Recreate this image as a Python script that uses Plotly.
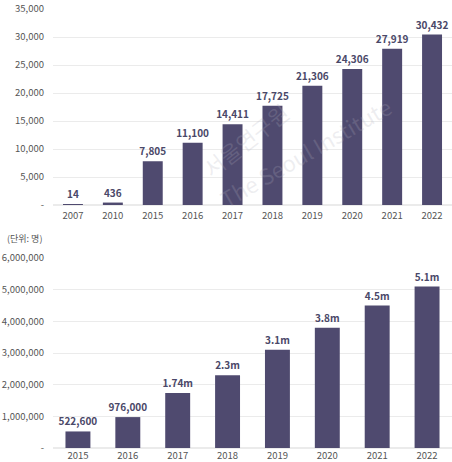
import plotly.graph_objects as go

# Top chart data
top_years = ["2007", "2010", "2015", "2016", "2017", "2018", "2019", "2020", "2021", "2022"]
top_values = [14, 436, 7805, 11100, 14411, 17725, 21306, 24306, 27919, 30432]
top_labels = ["14", "436", "7,805", "11,100", "14,411", "17,725", "21,306", "24,306", "27,919", "30,432"]
top_ticks = [0, 5000, 10000, 15000, 20000, 25000, 30000, 35000]
top_ticktext = ["-", "5,000", "10,000", "15,000", "20,000", "25,000", "30,000", "35,000"]

# Bottom chart data
bot_years = ["2015", "2016", "2017", "2018", "2019", "2020", "2021", "2022"]
bot_values = [522600, 976000, 1740000, 2300000, 3100000, 3800000, 4500000, 5100000]
bot_labels = ["522,600", "976,000", "1.74m", "2.3m", "3.1m", "3.8m", "4.5m", "5.1m"]
bot_ticks = [0, 1000000, 2000000, 3000000, 4000000, 5000000, 6000000]
bot_ticktext = ["-", "1,000,000", "2,000,000", "3,000,000", "4,000,000", "5,000,000", "6,000,000"]

unit_label = "(단위: 명)"

BAR = "#4f4a6f"
LABEL = "#4a4868"
TICK = "#555555"
GRID = "#ebebeb"
FONT = "Noto Sans CJK KR, Noto Sans, sans-serif"
WM = "rgba(175,175,190,0.22)"

W, H = 452, 462
def py(p):
    return 1 - p / H

fig = go.Figure()
fig.add_trace(go.Bar(
    x=top_years, y=top_values, text=top_labels, textposition="outside",
    constraintext="none",
    marker=dict(color=BAR, line=dict(width=0)), width=0.5,
    textfont=dict(family=FONT, size=10, color=LABEL, weight="bold"),
    cliponaxis=False, xaxis="x", yaxis="y", showlegend=False, hoverinfo="skip",
))
fig.add_trace(go.Bar(
    x=bot_years, y=bot_values, text=bot_labels, textposition="outside",
    constraintext="none",
    marker=dict(color=BAR, line=dict(width=0)), width=0.5,
    textfont=dict(family=FONT, size=10, color=LABEL, weight="bold"),
    cliponaxis=False, xaxis="x2", yaxis="y2", showlegend=False, hoverinfo="skip",
))

x0 = 53 / W
axis_common = dict(showline=False, ticks="", automargin=False,
                   tickfont=dict(family=FONT, size=9.5, color=TICK))
fig.update_layout(
    width=W, height=H, margin=dict(l=0, r=0, t=0, b=0),
    paper_bgcolor="white", plot_bgcolor="white",
    font=dict(family=FONT),
    xaxis=dict(domain=[x0, 1], anchor="y", type="category", showgrid=False,
               ticklabelstandoff=3, **axis_common),
    yaxis=dict(domain=[py(205), py(9)], anchor="x", range=[0, 35000], tickvals=top_ticks,
               ticktext=top_ticktext, showgrid=True, gridcolor=GRID, gridwidth=1,
               zeroline=True, zerolinecolor=GRID, ticklabelstandoff=8, **axis_common),
    xaxis2=dict(domain=[x0, 1], anchor="y2", type="category", showgrid=False,
                **axis_common),
    yaxis2=dict(domain=[py(448), py(258)], anchor="x2", range=[0, 6000000], tickvals=bot_ticks,
                ticktext=bot_ticktext, showgrid=True, gridcolor=GRID, gridwidth=1,
                zeroline=True, zerolinecolor=GRID, ticklabelstandoff=8, **axis_common),
    annotations=[
        dict(text=unit_label, x=44 / W, y=py(238), xref="paper", yref="paper",
             xanchor="right", yanchor="middle", showarrow=False,
             font=dict(family=FONT, size=9, color=TICK)),
        dict(text="서울연구원", x=245 / W, y=py(140), xref="paper", yref="paper",
             xanchor="center", yanchor="middle",
             showarrow=False, textangle=-38,
             font=dict(family=FONT, size=22, color=WM)),
        dict(text="The Seoul Institute", x=305 / W, y=py(152), xref="paper", yref="paper",
             xanchor="center", yanchor="middle",
             showarrow=False, textangle=-30,
             font=dict(family=FONT, size=22, color=WM)),
    ],
)

fig.write_html("out.html")
